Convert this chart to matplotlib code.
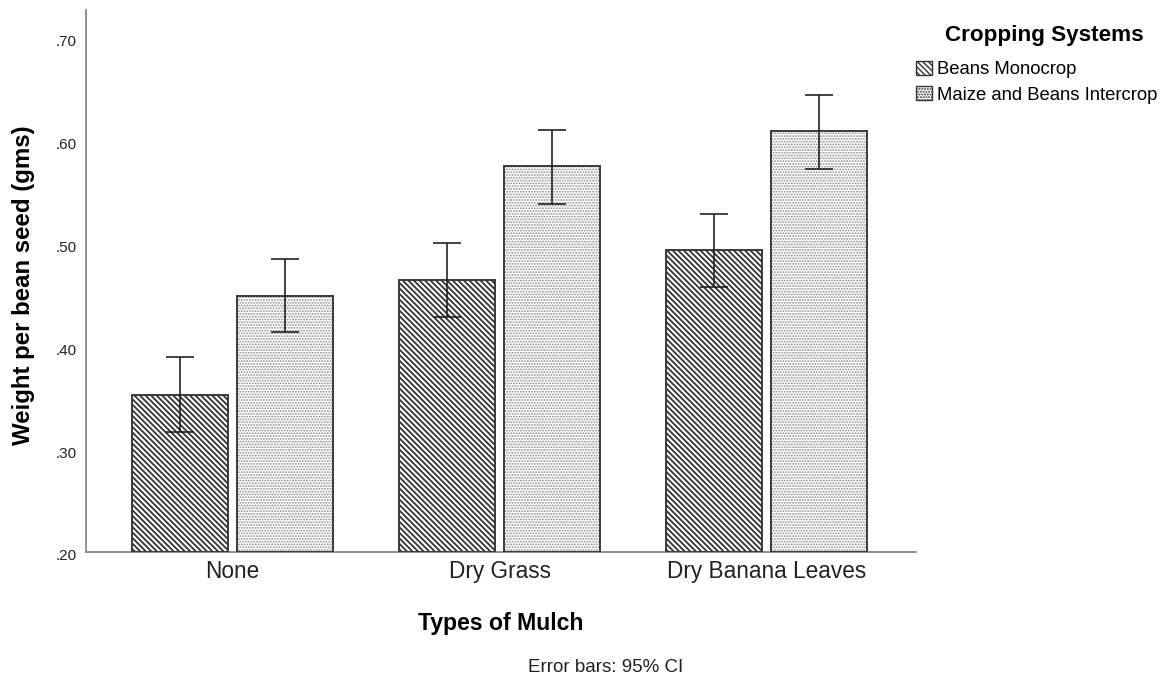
import matplotlib
matplotlib.use("Agg")
import matplotlib.pyplot as plt
import matplotlib.transforms as mtransforms
import numpy as np
from matplotlib.patches import Patch
from matplotlib.ticker import FuncFormatter

# Mean seed weight (g) with 95% CI bounds per mulch type and cropping system
mulch_types = ["None", "Dry Grass", "Dry Banana Leaves"]
systems = ["Beans Monocrop", "Maize and Beans Intercrop"]
monocrop_mean = [0.352, 0.464, 0.493]
monocrop_lo = [0.316, 0.428, 0.457]
monocrop_hi = [0.389, 0.500, 0.528]
intercrop_mean = [0.449, 0.575, 0.609]
intercrop_lo = [0.414, 0.538, 0.572]
intercrop_hi = [0.485, 0.610, 0.644]
y_ticks = [0.20, 0.30, 0.40, 0.50, 0.60, 0.70]

plt.rcParams["font.family"] = ["Liberation Sans", "DejaVu Sans"]

fig = plt.figure(figsize=(11.72, 6.78), dpi=100)
ax = fig.add_axes([0.0734, 0.1863, 0.7082, 0.799])

x = np.arange(len(mulch_types))
offset = 0.1976
width = 0.36

styles = [
    dict(hatch="\\" * 6, hatchcol="#333333", hlw=1.3),
    dict(hatch="." * 6, hatchcol="#8c8c8c", hlw=0.9),
]
series = [
    (monocrop_mean, monocrop_lo, monocrop_hi),
    (intercrop_mean, intercrop_lo, intercrop_hi),
]


def hatched_patch(hatch, col, hlw):
    with plt.rc_context({"hatch.linewidth": hlw}):
        p = Patch(facecolor="white", edgecolor=col, hatch=hatch, linewidth=1.0)
    if hasattr(p, "set_hatch_linewidth"):
        p.set_hatch_linewidth(hlw)
    return p


bottom = 0.2
for i, ((mean, lo, hi), st) in enumerate(zip(series, styles)):
    xs = x + (i * 2 - 1) * offset
    mean_a = np.array(mean)
    heights = mean_a - bottom
    # hatched fill
    with plt.rc_context({"hatch.linewidth": st["hlw"]}):
        bars = ax.bar(xs, heights, width, bottom=bottom, color="white",
                      edgecolor=st["hatchcol"], hatch=st["hatch"],
                      linewidth=0, zorder=2)
    for b in bars:
        if hasattr(b, "set_hatch_linewidth"):
            b.set_hatch_linewidth(st["hlw"])
    # outline
    ax.bar(xs, heights, width, bottom=bottom, fill=False,
           edgecolor="#3a3a3a", linewidth=1.4, zorder=3)
    yerr = np.vstack([mean_a - np.array(lo), np.array(hi) - mean_a])
    ax.errorbar(xs, mean_a, yerr=yerr, fmt="none", ecolor="#222222",
                elinewidth=1.2, capsize=10, capthick=1.2, zorder=4)

ax.set_xlim(-0.549, 2.56)
ax.set_ylim(0.2, 0.7267)
ax.set_yticks(y_ticks)
ax.yaxis.set_major_formatter(FuncFormatter(lambda v, p: f"{v:.2f}".lstrip("0")))
ax.set_xticks(x)
ax.set_xticklabels(mulch_types, fontsize=16.3, color="#222222")
ax.tick_params(axis="x", length=0, pad=6)
ax.tick_params(axis="y", length=0, pad=6.5, labelsize=11, labelcolor="#222222")
shift = mtransforms.ScaledTranslation(0, -3.3 / 100, fig.dpi_scale_trans)
for lab in ax.get_yticklabels():
    lab.set_transform(lab.get_transform() + shift)

for side in ["top", "right"]:
    ax.spines[side].set_visible(False)
for side in ["left", "bottom"]:
    ax.spines[side].set_color("#888888")
    ax.spines[side].set_linewidth(1.3)

ax.set_ylabel("Weight per bean seed (gms)", fontsize=17.3, fontweight="bold")
ax.yaxis.set_label_coords(-0.061, 0.492)
ax.set_xlabel("Types of Mulch", fontsize=16.6, fontweight="bold")
ax.xaxis.set_label_coords(0.499, -0.111)

fig.text(605.5 / 1172, 1 - 668 / 678, "Error bars: 95% CI", fontsize=13.5,
         ha="center", va="center", color="#222222")

# legend: title placed separately, entries below it
fig.text(1044 / 1172, 1 - 35 / 678, "Cropping Systems", fontsize=16.2,
         fontweight="bold", ha="center", va="center")
handles = [hatched_patch(st["hatch"], st["hatchcol"], st["hlw"]) for st in styles]
for h in handles:
    h.set_edgecolor("#333333")
leg = fig.legend(handles, systems, loc="upper left",
                 bbox_to_anchor=(916 / 1172, 1 - 61 / 678), frameon=False,
                 fontsize=13.3,
                 handlelength=0.86, handleheight=0.8, handletextpad=0.27,
                 labelspacing=0.42, borderpad=0, borderaxespad=0)

fig.savefig("out.png", dpi=100)
